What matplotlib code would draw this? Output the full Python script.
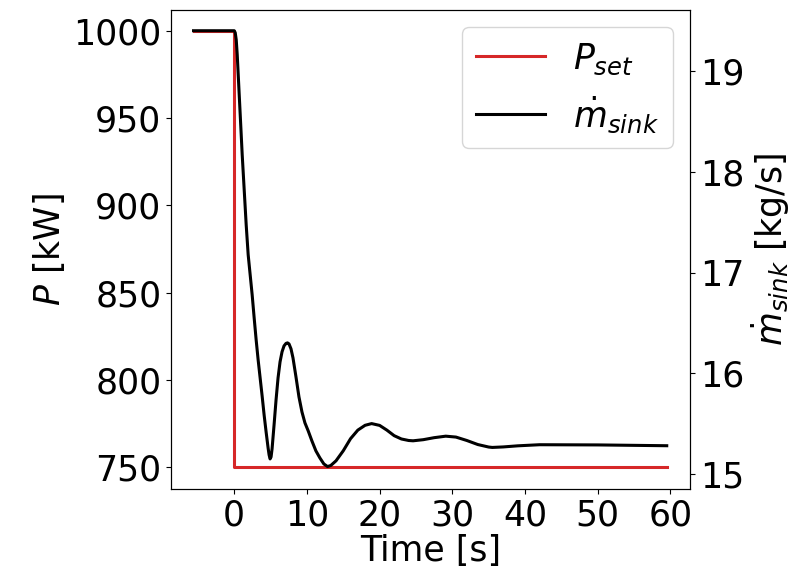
import matplotlib
matplotlib.use("Agg")
import matplotlib.pyplot as plt

# Setpoint power (left axis)
t_set = [-5.6, 0.0, 0.0, 59.5]
p_set = [1000, 1000, 750, 750]

# Sink mass flow (right axis)
t_sink = [-5.6, 0.0, 0.137, 0.274, 0.411, 0.548, 0.685, 0.822, 1.096, 1.370,
          1.644, 1.918, 2.192, 2.466, 2.740, 3.014, 3.288, 3.562, 3.836, 4.110,
          4.384, 4.658, 4.795, 4.932, 5.068, 5.205, 5.479, 5.753, 6.027, 6.301,
          6.575, 6.849, 7.123, 7.329, 7.534, 7.808, 8.082, 8.493, 8.904, 9.315,
          9.726, 10.178, 10.685, 11.233, 11.781, 12.329, 12.836, 13.288, 14.0,
          15.0, 16.0, 17.0, 18.0, 18.9, 20.0, 21.0, 22.0, 23.0, 24.0, 24.6, 26.0,
          27.5, 29.1, 30.5, 32.0, 33.5, 35.0, 35.5, 37.0, 39.0, 42.0, 50.0, 59.5]
m_sink = [19.404, 19.404, 19.384, 19.314, 19.165, 18.966, 18.767, 18.569, 18.171,
          17.823, 17.475, 17.177, 16.978, 16.779, 16.551, 16.332, 16.133, 15.954,
          15.775, 15.586, 15.417, 15.258, 15.189, 15.149, 15.169, 15.249, 15.487,
          15.736, 15.954, 16.113, 16.213, 16.272, 16.297, 16.302, 16.292, 16.243,
          16.153, 15.964, 15.765, 15.616, 15.507, 15.427, 15.328, 15.229, 15.159,
          15.099, 15.073, 15.084, 15.13, 15.23, 15.35, 15.435, 15.483, 15.50,
          15.482, 15.435, 15.38, 15.347, 15.332, 15.329, 15.34, 15.36, 15.375,
          15.366, 15.332, 15.292, 15.267, 15.263, 15.268, 15.279, 15.29, 15.288,
          15.28]

x_ticks = [0, 10, 20, 30, 40, 50, 60]
p_ticks = [750, 800, 850, 900, 950, 1000]
m_ticks = [15, 16, 17, 18, 19]

FS = 25
fig = plt.figure(figsize=(8.08, 5.77), dpi=100)
ax1 = fig.add_axes([171 / 808, 1 - 489 / 577, (690 - 171) / 808, (489 - 10) / 577])
ax2 = ax1.twinx()

l1, = ax1.plot(t_set, p_set, color="#d62728", lw=2.2, label=r"$P_{set}$")
l2, = ax2.plot(t_sink, m_sink, color="black", lw=2.2, label=r"$\dot{m}_{sink}$")

ax1.set_xlim(-8.7, 62.7)
ax1.set_ylim(737.4, 1012.0)
ax2.set_ylim(14.85, 19.61)
ax1.set_xticks(x_ticks)
ax1.set_yticks(p_ticks)
ax2.set_yticks(m_ticks)

ax1.tick_params(labelsize=FS)
ax2.tick_params(labelsize=FS)
ax1.set_xlabel("Time [s]", fontsize=FS, labelpad=1)
ax1.set_ylabel(r"$P$ [kW]", fontsize=FS)
ax2.set_ylabel(r"$\dot{m}_{sink}$ [kg/s]", fontsize=FS)

ax2.legend(handles=[l1, l2], loc="upper right", fontsize=FS)

fig.savefig("out.png", dpi=100)
